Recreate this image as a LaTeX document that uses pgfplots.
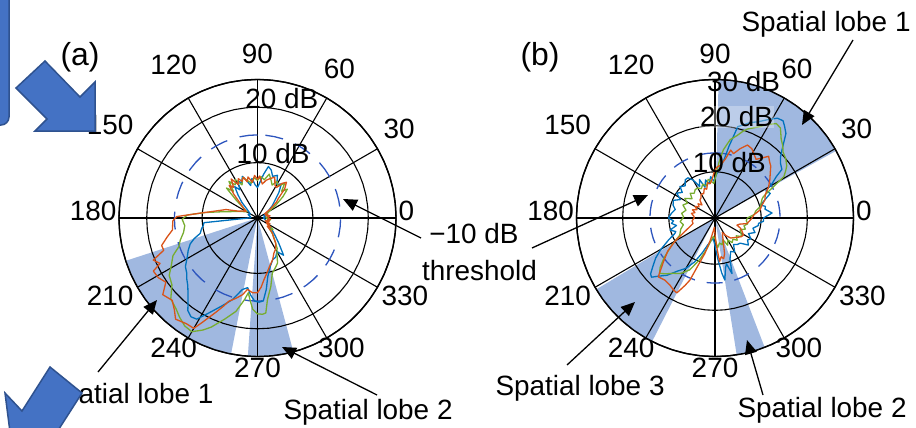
\documentclass[border=0pt]{standalone}
\usepackage{pgfplots}
\pgfplotsset{compat=1.18}
\usepgfplotslibrary{polar}
\usetikzlibrary{arrows.meta}
\usepackage{fontspec}
\setmainfont{Liberation Sans}
\newcommand\fs{\fontsize{28}{34}\selectfont}
\definecolor{mblue}{RGB}{0,114,189}
\definecolor{morange}{RGB}{217,83,25}
\definecolor{mgreen}{RGB}{119,172,48}
\definecolor{thr}{RGB}{45,85,190}
\definecolor{wedge}{RGB}{160,184,224}
\definecolor{deco}{RGB}{68,114,196}
\definecolor{decoedge}{RGB}{47,82,143}
\pgfplotsset{
  mypolar/.style={
    anchor=center, scale only axis, width=277bp, height=277bp,
    xmin=0, xmax=360, ymin=0,
    xtick={0,30,60,90,120,150,180,210,270,330},
    extra x ticks={240,300},
    extra x tick style={xticklabel style={yshift=8bp}},
    xticklabel={\pgfmathprintnumber[assume math mode=true]{\tick}},
    yticklabel style={opacity=0, font=\tiny},
    grid=none,
    axis line style={black, line width=1.3bp},
    major tick length=0pt,
    xticklabel style={font=\fs, inner xsep=2.5bp, inner ysep=8.5bp, yshift=7.5bp},
    clip=false,
  },
  curve/.style={line width=1.3bp, line join=round},
  gridl/.style={black, line width=1.1bp, forget plot},
}
\begin{document}
\begin{tikzpicture}[x=1bp,y=1bp]
\useasboundingbox (0,0) rectangle (916,427);
% ---------------- (a)
\begin{polaraxis}[mypolar, at={(257.5bp,209bp)}, ymax=25, ytick={10,20}]
\addplot[fill=wedge, draw=none] coordinates {(0,0) (198,25) (204,25) (210,25) (216,25) (222,25) (228,25) (234,25) (240,25) (246,25) (252,25) (259,25) (0,0)};
\addplot[fill=wedge, draw=none] coordinates {(0,0) (266,25) (272,25) (278,25) (285,25) (0,0)};
% grid
\addplot[gridl] coordinates {(0,25) (180,25)};
\addplot[gridl] coordinates {(30,25) (210,25)};
\addplot[gridl] coordinates {(60,25) (240,25)};
\addplot[gridl] coordinates {(90,25) (270,25)};
\addplot[gridl] coordinates {(120,25) (300,25)};
\addplot[gridl] coordinates {(150,25) (330,25)};
\addplot[gridl] coordinates {(0,10) (6,10) (12,10) (18,10) (24,10) (30,10) (36,10) (42,10) (48,10) (54,10) (60,10) (66,10) (72,10) (78,10) (84,10) (90,10) (96,10) (102,10) (108,10) (114,10) (120,10) (126,10) (132,10) (138,10) (144,10) (150,10) (156,10) (162,10) (168,10) (174,10) (180,10) (186,10) (192,10) (198,10) (204,10) (210,10) (216,10) (222,10) (228,10) (234,10) (240,10) (246,10) (252,10) (258,10) (264,10) (270,10) (276,10) (282,10) (288,10) (294,10) (300,10) (306,10) (312,10) (318,10) (324,10) (330,10) (336,10) (342,10) (348,10) (354,10) (360,10)};
\addplot[gridl] coordinates {(0,20) (6,20) (12,20) (18,20) (24,20) (30,20) (36,20) (42,20) (48,20) (54,20) (60,20) (66,20) (72,20) (78,20) (84,20) (90,20) (96,20) (102,20) (108,20) (114,20) (120,20) (126,20) (132,20) (138,20) (144,20) (150,20) (156,20) (162,20) (168,20) (174,20) (180,20) (186,20) (192,20) (198,20) (204,20) (210,20) (216,20) (222,20) (228,20) (234,20) (240,20) (246,20) (252,20) (258,20) (264,20) (270,20) (276,20) (282,20) (288,20) (294,20) (300,20) (306,20) (312,20) (318,20) (324,20) (330,20) (336,20) (342,20) (348,20) (354,20) (360,20)};
\addplot[gridl, line width=1.3bp] coordinates {(0,25) (6,25) (12,25) (18,25) (24,25) (30,25) (36,25) (42,25) (48,25) (54,25) (60,25) (66,25) (72,25) (78,25) (84,25) (90,25) (96,25) (102,25) (108,25) (114,25) (120,25) (126,25) (132,25) (138,25) (144,25) (150,25) (156,25) (162,25) (168,25) (174,25) (180,25) (186,25) (192,25) (198,25) (204,25) (210,25) (216,25) (222,25) (228,25) (234,25) (240,25) (246,25) (252,25) (258,25) (264,25) (270,25) (276,25) (282,25) (288,25) (294,25) (300,25) (306,25) (312,25) (318,25) (324,25) (330,25) (336,25) (342,25) (348,25) (354,25) (360,25)};
% threshold
\addplot[thr, line width=1.3bp, dash pattern=on 18bp off 13bp] coordinates {(90,15) (96,15) (102,15) (108,15) (114,15) (120,15) (126,15) (132,15) (138,15) (144,15) (150,15) (156,15) (162,15) (168,15) (174,15) (180,15) (186,15) (192,15) (198,15) (204,15) (210,15) (216,15) (222,15) (228,15) (234,15) (240,15) (246,15) (252,15) (258,15) (264,15) (270,15) (276,15) (282,15) (288,15) (294,15) (300,15) (306,15) (312,15) (318,15) (324,15) (330,15) (336,15) (342,15) (348,15) (354,15) (360,15) (6,15) (12,15) (18,15) (24,15) (30,15) (36,15) (42,15) (48,15) (54,15) (60,15) (66,15) (72,15) (78,15) (84,15) (90,15)};
\addplot[curve, mblue] coordinates {(0,1.0) (10,1.5) (20,1.2) (30,2.0) (40,3.5) (50,6.0) (55,7.5) (60,7.0) (65,8.5) (70,8.0) (74,9.0) (78,9.5) (82,8.0) (86,6.5) (90,5.5) (94,6.0) (98,7.2) (102,6.0) (106,7.0) (110,8.0) (114,7.0) (118,7.5) (122,6.0) (126,7.0) (130,5.5) (135,4.0) (140,2.5) (150,1.5) (160,1.8) (170,1.3) (178,1.2) (185,9.7) (188,9.9) (191,10.3) (195,10.7) (198,12.0) (201,13.0) (205,13.8) (209,14.5) (214,15.7) (218,16.2) (221,16.9) (224,17.5) (227,18.4) (230,19.5) (233,20.9) (236,21.5) (239,21.3) (243,19.2) (248,17.1) (253,15.4) (258,13.2) (262,12.7) (265,14.0) (268,15.0) (271,15.2) (274,15.0) (277,13.0) (280,10.7) (285,9.0) (290,8.0) (295,7.8) (300,7.0) (305,8.2) (310,6.0) (315,4.5) (320,3.5) (325,2.5) (335,2.0) (345,1.5) (355,1.2) (360,1.0)};
\addplot[curve, mgreen] coordinates {(0,1.5) (10,2.0) (20,1.6) (30,2.5) (35,4.0) (40,6.0) (44,7.5) (48,6.5) (52,8.0) (57,6.8) (62,7.5) (66,6.5) (70,7.2) (75,8.2) (80,7.0) (85,7.5) (90,6.8) (95,7.3) (100,6.4) (105,7.0) (110,7.8) (115,6.6) (120,8.0) (124,7.2) (128,8.4) (132,6.5) (136,7.8) (140,5.0) (145,3.0) (150,2.2) (157,3.0) (163,4.0) (170,6.5) (174,9.5) (177.6,12.7) (181,13.6) (186,13.2) (191,13.6) (196,14.5) (200,15.1) (204,16.7) (209,17.8) (213,19.0) (218,19.6) (223,21.4) (228,22.0) (232,22.8) (236,23.5) (240,23.7) (244,22.5) (247,21.4) (252,19.2) (257,17.3) (261,14.9) (263,13.6) (265,15.0) (267,16.5) (270,17.3) (273,17.4) (275,17.2) (277,14.8) (281,12.6) (285,10.3) (290,9.5) (294,8.9) (298,7.5) (303,6.5) (308,5.0) (313,4.0) (318,3.0) (323,3.5) (330,2.2) (340,1.8) (350,2.3) (360,1.5)};
\addplot[curve, morange] coordinates {(0,2.0) (5,1.9) (10,2.3) (15,1.5) (20,2.0) (25,1.7) (30,1.5) (35,2.8) (40,4.5) (43,5.1) (47,7.2) (51,8.3) (55,7.6) (58,6.5) (62,6.7) (67,8.0) (72,7.5) (77,7.0) (82,6.2) (87,7.6) (90,7.0) (94,7.7) (98,6.5) (103,7.6) (106,6.8) (109,7.8) (113,7.2) (116,7.9) (120,7.0) (124,8.5) (128,7.0) (131,7.8) (135,6.0) (140,4.0) (145,3.0) (150,2.4) (155,3.0) (160,3.6) (165,5.9) (171.5,8.1) (175.9,11.0) (179,14.6) (182,15.3) (188,15.5) (192,16.7) (196,18.0) (199,17.9) (202,20.3) (205,19.4) (207,21.1) (211,20.9) (215,20.2) (219,22.0) (224,21.4) (228,22.4) (231,23.5) (236,23.0) (240,23.0) (242,21.4) (246,18.7) (249,17.0) (251,15.9) (255,15.0) (259,14.1) (262,13.0) (266,13.5) (270,13.5) (273,12.5) (276,11.2) (280,10.0) (284,9.0) (290,8.0) (295,7.0) (300,6.5) (306,5.6) (310,4.5) (315,3.8) (320,2.3) (325,2.9) (330,1.9) (335,2.5) (340,1.5) (345,2.2) (350,1.8) (355,2.4) (360,2.0)};
\node[font=\fs, anchor=base, xshift=7bp] at (axis cs:81,10) {10 dB};
\node[font=\fs, anchor=base, xshift=7bp] at (axis cs:81,20) {20 dB};
\end{polaraxis}
% ---------------- (b)
\begin{polaraxis}[mypolar, at={(715bp,209bp)}, ymax=30, ytick={10,20}]
\addplot[fill=wedge, draw=none] coordinates {(0,0) (29,30) (35,30) (41,30) (47,30) (53,30) (59,30) (65,30) (71,30) (77,30) (83,30) (88.5,30) (0,0)};
\addplot[fill=wedge, draw=none] coordinates {(0,0) (211,30) (217,30) (223,30) (229,30) (235,30) (243,30) (0,0)};
\addplot[fill=wedge, draw=none] coordinates {(0,0) (279,30) (285,30) (291,30) (0,0)};
% grid
\addplot[gridl] coordinates {(0,30) (180,30)};
\addplot[gridl] coordinates {(30,30) (210,30)};
\addplot[gridl] coordinates {(60,30) (240,30)};
\addplot[gridl] coordinates {(90,30) (270,30)};
\addplot[gridl] coordinates {(120,30) (300,30)};
\addplot[gridl] coordinates {(150,30) (330,30)};
\addplot[gridl] coordinates {(0,10) (6,10) (12,10) (18,10) (24,10) (30,10) (36,10) (42,10) (48,10) (54,10) (60,10) (66,10) (72,10) (78,10) (84,10) (90,10) (96,10) (102,10) (108,10) (114,10) (120,10) (126,10) (132,10) (138,10) (144,10) (150,10) (156,10) (162,10) (168,10) (174,10) (180,10) (186,10) (192,10) (198,10) (204,10) (210,10) (216,10) (222,10) (228,10) (234,10) (240,10) (246,10) (252,10) (258,10) (264,10) (270,10) (276,10) (282,10) (288,10) (294,10) (300,10) (306,10) (312,10) (318,10) (324,10) (330,10) (336,10) (342,10) (348,10) (354,10) (360,10)};
\addplot[gridl] coordinates {(0,20) (6,20) (12,20) (18,20) (24,20) (30,20) (36,20) (42,20) (48,20) (54,20) (60,20) (66,20) (72,20) (78,20) (84,20) (90,20) (96,20) (102,20) (108,20) (114,20) (120,20) (126,20) (132,20) (138,20) (144,20) (150,20) (156,20) (162,20) (168,20) (174,20) (180,20) (186,20) (192,20) (198,20) (204,20) (210,20) (216,20) (222,20) (228,20) (234,20) (240,20) (246,20) (252,20) (258,20) (264,20) (270,20) (276,20) (282,20) (288,20) (294,20) (300,20) (306,20) (312,20) (318,20) (324,20) (330,20) (336,20) (342,20) (348,20) (354,20) (360,20)};
\addplot[gridl, line width=1.3bp] coordinates {(0,30) (6,30) (12,30) (18,30) (24,30) (30,30) (36,30) (42,30) (48,30) (54,30) (60,30) (66,30) (72,30) (78,30) (84,30) (90,30) (96,30) (102,30) (108,30) (114,30) (120,30) (126,30) (132,30) (138,30) (144,30) (150,30) (156,30) (162,30) (168,30) (174,30) (180,30) (186,30) (192,30) (198,30) (204,30) (210,30) (216,30) (222,30) (228,30) (234,30) (240,30) (246,30) (252,30) (258,30) (264,30) (270,30) (276,30) (282,30) (288,30) (294,30) (300,30) (306,30) (312,30) (318,30) (324,30) (330,30) (336,30) (342,30) (348,30) (354,30) (360,30)};
% threshold
\addplot[thr, line width=1.3bp, dash pattern=on 16bp off 12bp] coordinates {(90,14.1) (96,14.1) (102,14.1) (108,14.1) (114,14.1) (120,14.1) (126,14.1) (132,14.1) (138,14.1) (144,14.1) (150,14.1) (156,14.1) (162,14.1) (168,14.1) (174,14.1) (180,14.1) (186,14.1) (192,14.1) (198,14.1) (204,14.1) (210,14.1) (216,14.1) (222,14.1) (228,14.1) (234,14.1) (240,14.1) (246,14.1) (252,14.1) (258,14.1) (264,14.1) (270,14.1) (276,14.1) (282,14.1) (288,14.1) (294,14.1) (300,14.1) (306,14.1) (312,14.1) (318,14.1) (324,14.1) (330,14.1) (336,14.1) (342,14.1) (348,14.1) (354,14.1) (360,14.1) (6,14.1) (12,14.1) (18,14.1) (24,14.1) (30,14.1) (36,14.1) (42,14.1) (48,14.1) (54,14.1) (60,14.1) (66,14.1) (72,14.1) (78,14.1) (84,14.1) (90,14.1)};
\addplot[curve, mblue] coordinates {(0,10.5) (5,12.4) (10,11.0) (13,11.2) (16,10.2) (20,11.5) (24,13.1) (28,12.5) (31,14.4) (34,16.0) (36,17.9) (40,18.5) (43,19.4) (46,21.0) (50,23.9) (53,25.0) (55,25.7) (58,25.5) (62,24.1) (66,22.8) (70,22.0) (73,21.1) (76,20.4) (79,15.8) (81,13.0) (84,11.0) (88,9.5) (92,8.0) (96,9.0) (100,7.5) (104,8.5) (108,7.0) (112,9.0) (116,7.6) (120,9.5) (124,10.5) (128,10.5) (133,9.5) (138,10.2) (142,9.0) (147,9.9) (152,8.5) (157,9.8) (163,9.5) (168,8.8) (174,9.5) (180,10.1) (184,9.0) (187,9.5) (191,8.5) (195,10.1) (199,9.0) (201,9.3) (205,11.0) (210,13.5) (214,15.5) (218,17.1) (221,18.5) (223,18.8) (226,17.5) (230,16.2) (235,14.0) (240,12.6) (245,10.5) (250,8.0) (255,6.0) (260,5.0) (265,4.5) (270,6.0) (274,9.0) (277,12.0) (279,13.6) (282,11.0) (284,10.2) (287,12.6) (290,9.5) (295,8.0) (300,8.5) (305,7.0) (310,7.5) (315,7.7) (321,9.3) (326,8.5) (330,9.0) (335,8.0) (340,9.2) (345,8.5) (350,9.5) (353,9.5) (356,10.5) (360,10.5)};
\addplot[curve, mgreen] coordinates {(0,7.0) (5,8.5) (10,9.0) (14,10.1) (18,10.5) (22,11.0) (24,11.5) (27,13.4) (31,17.4) (34,18.5) (36,19.2) (40,20.0) (44,20.5) (47,21.5) (50,22.3) (54,24.1) (57,24.4) (61,23.1) (64,22.0) (67,21.2) (70,20.5) (72,19.8) (75,18.5) (79,17.3) (83,14.9) (86,12.0) (89,9.0) (92,7.5) (96,8.0) (100,8.5) (105,7.2) (110,7.8) (115,7.0) (120,7.5) (125,7.5) (130,7.0) (135,7.6) (140,6.5) (147,7.8) (152,6.8) (158,7.5) (165,6.5) (172,7.3) (178,6.8) (186,7.6) (192,7.0) (198,7.8) (206,8.5) (212,11.0) (218,14.0) (222,16.0) (225,17.0) (229,16.0) (233,15.0) (238,14.2) (244,12.5) (250,9.5) (255,7.0) (260,5.0) (265,4.0) (270,4.5) (275,6.5) (280,5.5) (285,6.0) (290,5.0) (295,6.5) (300,5.5) (305,6.5) (310,6.0) (315,6.8) (320,6.0) (325,7.0) (330,6.5) (335,6.0) (340,7.0) (345,6.5) (350,7.2) (355,6.8) (360,7.0)};
\addplot[curve, morange] coordinates {(0,8.0) (5,8.5) (10,9.9) (15,10.5) (20,11.5) (25,12.0) (30,13.4) (35,14.5) (39,15.4) (43,16.5) (46,17.0) (49,17.7) (52,16.5) (55,15.5) (59,16.3) (62,17.0) (66,17.3) (70,16.0) (74,14.5) (77,15.1) (80,13.0) (84,11.5) (88,11.0) (91,10.0) (94,8.5) (98,7.5) (102,7.8) (106,6.5) (110,6.8) (115,5.8) (120,6.0) (125,5.3) (130,5.1) (135,4.0) (140,4.8) (145,4.2) (150,5.0) (155,4.3) (160,5.2) (165,4.5) (169,5.2) (175,4.6) (180,4.5) (187,5.0) (194,4.9) (200,6.0) (205,7.5) (210,10.0) (215,12.5) (220,14.5) (226,17.7) (231,17.3) (236,17.5) (240,18.0) (243,18.2) (246,16.0) (248,14.5) (250,11.3) (254,8.0) (258,5.0) (262,3.0) (266,2.0) (270,3.5) (273,6.0) (276,9.5) (279,8.5) (282,9.0) (285,8.0) (288,6.0) (292,4.5) (297,3.5) (302,4.5) (308,5.5) (315,6.0) (320,6.5) (325,7.0) (329,7.2) (334,6.5) (338,6.0) (342,5.0) (346,5.5) (350,7.0) (355,7.5) (360,8.0)};
\node[font=\fs, anchor=base, xshift=7bp] at (axis cs:81,10) {10 dB};
\node[font=\fs, anchor=base, xshift=7bp, fill=white, fill opacity=0.3, text opacity=1, inner sep=1bp] at (axis cs:81,20) {20 dB};
\node[font=\fs, anchor=center, xshift=7bp] at (axis cs:81,30) {30 dB};
\end{polaraxis}
% ---------------- annotations
\tikzset{ann/.style={line width=1.3bp, -{Triangle[length=14bp,width=12bp]}}}
\node[font=\fontsize{32}{38}\selectfont] at (80,370) {(a)};
\node[font=\fontsize{32}{38}\selectfont] at (540,370) {(b)};
\node[font=\fs] at (474,193) {\char"2212 10 dB};
\node[font=\fs] at (479.5,156) {threshold};
\draw[ann] (421,189) -- (343,228);
\draw[ann] (532,179) -- (648,232);
\node[font=\fs, anchor=base east] at (217,24) {Spatial lobe 1};
\draw[ann] (98,55) -- (157,127);
\node[font=\fs, anchor=base west] at (280,8) {Spatial lobe 2};
\draw[ann] (377,32) -- (282,80);
\node[font=\fs, anchor=base west] at (738,395) {Spatial lobe 1};
\draw[ann] (853,387) -- (802,302);
\node[font=\fs, anchor=base west] at (492,32) {Spatial lobe 3};
\draw[ann] (567,62) -- (635,125);
\node[font=\fs, anchor=base west] at (734,10) {Spatial lobe 2};
\draw[ann] (763,32) -- (747,87);
% ---------------- slide decorations
\draw[fill=deco, draw=decoedge, line width=1.5bp, rounded corners=8bp] (-10,440) rectangle (9,302);
\draw[fill=deco, draw=decoedge, line width=1.5bp, line join=miter] (16,339) -- (45,366) -- (80,330) -- (95,345) -- (95,296) -- (35,296) -- (47,308) -- cycle;
\draw[fill=deco, draw=decoedge, line width=1.5bp, line join=miter] (5,34) -- (22,16) -- (50,60) -- (82,34) -- (57,-5) -- (10,-5) -- cycle;
\end{tikzpicture}
\end{document}
